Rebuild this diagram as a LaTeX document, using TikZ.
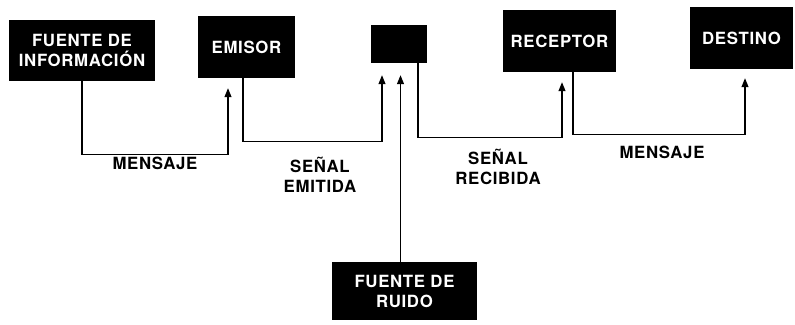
\documentclass[tikz,border=0pt]{standalone}
\usepackage{fontspec}
\setmainfont[LetterSpace=4]{TeX Gyre Heros}
\usetikzlibrary{arrows.meta}
\begin{document}
\begin{tikzpicture}[x=1pt,y=-1pt,
  blk/.style={fill=black,text=white,inner sep=0pt,align=center,
    font=\fontsize{16.8}{20}\selectfont\bfseries},
  lbl/.style={inner sep=0pt,align=center,font=\fontsize{16.8}{20}\selectfont\bfseries},
  conn/.style={line width=1.1pt,-{Triangle[length=9pt,width=7pt]}}]
\useasboundingbox (0,0) rectangle (795,324);
\node[blk,minimum width=146pt,minimum height=61pt] (b1) at (82,50) {FUENTE DE\\INFORMACIÓN};
\node[blk,minimum width=97pt,minimum height=62pt] (b2) at (246.5,47) {EMISOR};
\node[blk,minimum width=56pt,minimum height=38pt] (b3) at (399,44) {};
\node[blk,minimum width=113pt,minimum height=62pt] (b4) at (559.5,41) {RECEPTOR};
\node[blk,minimum width=103pt,minimum height=62pt] (b5) at (741.5,38) {DESTINO};
\node[blk,minimum width=145pt,minimum height=58pt] (b6) at (404.5,291) {FUENTE DE\\RUIDO};

\coordinate (t1) at ([xshift=-18.5pt,yshift=-10pt]b2.south);
\coordinate (t2) at ([xshift=-17pt,yshift=-12pt]b3.south);
\coordinate (tn) at ([xshift=1.5pt,yshift=-12pt]b3.south);
\coordinate (t3) at ([xshift=2.5pt,yshift=-10pt]b4.south);
\coordinate (t4) at ([xshift=3.5pt,yshift=-9pt]b5.south);

\draw[conn] (b1.south) |- ([yshift=-66pt]t1) -- (t1);
\draw[conn] ([xshift=-3.5pt]b2.south) |- ([yshift=-66pt]t2) -- (t2);
\draw[conn] (tn |- b6.north) -- (tn);
\draw[conn] ([xshift=19pt]b3.south) |- ([yshift=-55pt]t3) -- (t3);
\draw[conn] ([xshift=13.5pt]b4.south) |- ([yshift=-56pt]t4) -- (t4);

\node[lbl] (m1) at (155,163) {MENSAJE};
\node[lbl] (se) at (320,175) {SEÑAL\\EMITIDA};
\node[lbl] (sr) at (498,167) {SEÑAL\\RECIBIDA};
\node[lbl] (m2) at (662,152) {MENSAJE};
\end{tikzpicture}
\end{document}
